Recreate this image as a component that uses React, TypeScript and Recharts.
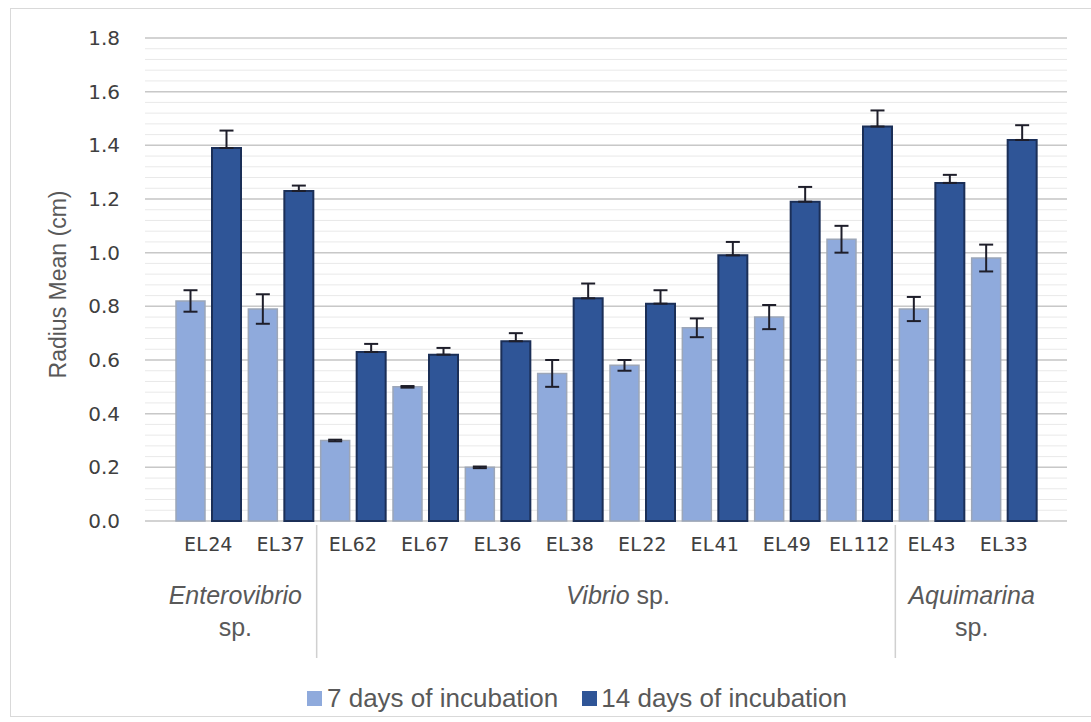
import React from 'react';
import { BarChart, Bar, XAxis, YAxis, CartesianGrid, ErrorBar, Legend } from 'recharts';

const categories = ['EL24', 'EL37', 'EL62', 'EL67', 'EL36', 'EL38', 'EL22', 'EL41', 'EL49', 'EL112', 'EL43', 'EL33'];
const days7 = [0.82, 0.79, 0.30, 0.50, 0.20, 0.55, 0.58, 0.72, 0.76, 1.05, 0.79, 0.98];
const err7 = [0.04, 0.055, 0.003, 0.003, 0.003, 0.05, 0.02, 0.035, 0.045, 0.05, 0.045, 0.05];
const days14 = [1.39, 1.23, 0.63, 0.62, 0.67, 0.83, 0.81, 0.99, 1.19, 1.47, 1.26, 1.42];
const err14 = [0.065, 0.02, 0.03, 0.025, 0.03, 0.055, 0.05, 0.05, 0.055, 0.06, 0.03, 0.055];

const Y_MAX = 1.8;
const yTicks = [0, 0.2, 0.4, 0.6, 0.8, 1.0, 1.2, 1.4, 1.6, 1.8];
const minorStep = 0.04;
const minorTicks = Array.from({ length: 46 }, (_, i) => Math.round(i * minorStep * 100) / 100);

const groups = [
  { name: 'Enterovibrio', suffix: 'sp.', twoLine: true, start: 0, end: 1, dx: -9 },
  { name: 'Vibrio', suffix: ' sp.', twoLine: false, start: 2, end: 9, dx: 12 },
  { name: 'Aquimarina', suffix: 'sp.', twoLine: true, start: 10, end: 11, dx: 4 },
];

const seriesNames = ['7 days of incubation', '14 days of incubation'];
const LIGHT = '#8faadc';
const DARK = '#2f5597';

const data = categories.map((c, i) => ({
  name: c,
  d7: days7[i],
  e7: err7[i],
  d14: days14[i],
  e14: err14[i],
}));

const SANS = '"Liberation Sans", Arial, sans-serif';
const TEXT = '#595959';

const XTick = (props: any) => {
  const { x, y, payload } = props;
  const idx = payload.index;
  const half = payload.offset || 36;
  const g = groups.find((gr) => gr.end === idx);
  const isLast = g ? g === groups[groups.length - 1] : false;
  let groupEls: any = null;
  if (g) {
    const cx = x - (g.end - g.start) * half + g.dx;
    groupEls = (
      <g>
        {!isLast && (
          <line x1={x + half} x2={x + half} y1={y - 12} y2={y + 121} stroke="#d0d0d0" strokeWidth={1.5} />
        )}
        {g.twoLine ? (
          <g>
            <text x={cx} y={y + 67} textAnchor="middle" fontSize={25} fontFamily={SANS} fill={TEXT} fontStyle="italic">
              {g.name}
            </text>
            <text x={cx} y={y + 99} textAnchor="middle" fontSize={25} fontFamily={SANS} fill={TEXT}>
              {g.suffix}
            </text>
          </g>
        ) : (
          <text x={cx} y={y + 67} textAnchor="middle" fontSize={25} fontFamily={SANS} fill={TEXT}>
            <tspan fontStyle="italic">{g.name}</tspan>
            <tspan>{g.suffix}</tspan>
          </text>
        )}
      </g>
    );
  }
  return (
    <g>
      <text x={x} y={y} dy="0.71em" textAnchor="middle" fontSize={20} fontFamily='"DejaVu Sans Mono", monospace' fill="#404040">
        {payload.value}
      </text>
      {groupEls}
    </g>
  );
};

const LegendContent = () => (
  <div style={{ display: 'flex', alignItems: 'center', paddingLeft: 307, height: 32, fontFamily: SANS, fontSize: 26, color: TEXT }}>
    <span style={{ width: 15, height: 15, background: LIGHT, display: 'inline-block', marginRight: 5 }} />
    <span style={{ marginRight: 24 }}>{seriesNames[0]}</span>
    <span style={{ width: 15, height: 15, background: DARK, display: 'inline-block', marginRight: 4 }} />
    <span>{seriesNames[1]}</span>
  </div>
);

const minorGen = (args: any) => {
  const yAxis = args && args.yAxis;
  if (yAxis && typeof yAxis.scale === 'function') {
    return minorTicks.map((t) => yAxis.scale(t));
  }
  const off = args && args.offset;
  if (!off || typeof off.top !== 'number' || typeof off.height !== 'number') return [];
  return minorTicks.map((t) => off.top + off.height * (1 - t / Y_MAX));
};

export default function App() {
  return (
    <div style={{ position: 'absolute', left: 0, top: 0, width: 1091, height: 722, background: '#fff', overflow: 'hidden' }}>
      <div style={{ position: 'absolute', left: 10, top: 8, width: 1090, height: 709, border: '1px solid #d9d9d9', boxSizing: 'border-box' }} />
      <BarChart
        width={1091}
        height={722}
        data={data}
        margin={{ top: 38, right: 24, left: 0, bottom: 0 }}
        barGap={7}
        barSize={29}
      >
        <CartesianGrid vertical={false} stroke="#e9e9e9" strokeWidth={1} horizontalCoordinatesGenerator={minorGen} />
        <CartesianGrid vertical={false} stroke="#c8c8c8" strokeWidth={1.5} />
        <XAxis
          dataKey="name"
          height={201}
          padding={{ left: 27, right: 27 }}
          tickLine={false}
          axisLine={false}
          tickSize={6}
          tickMargin={10}
          interval={0}
          tick={<XTick />}
        />
        <YAxis
          width={145}
          domain={[0, Y_MAX]}
          ticks={yTicks}
          tickFormatter={(v: number) => v.toFixed(1)}
          tickLine={false}
          axisLine={false}
          tickSize={6}
          tickMargin={19}
          tick={{ fill: '#404040', fontSize: 20, fontFamily: '"DejaVu Sans", sans-serif' }}
          label={{ value: 'Radius Mean (cm)', angle: -90, position: 'center', dx: -15, dy: 5, style: { fill: TEXT, fontSize: 23, fontFamily: SANS } }}
        />
        <Legend layout="horizontal" verticalAlign="middle" align="center" wrapperStyle={{ top: 682, left: 0, width: 1091, height: 32 }} content={<LegendContent />} />
        <Bar dataKey="d7" name={seriesNames[0]} fill={LIGHT} stroke="#9ca6b8" strokeWidth={1.5} isAnimationActive={false}>
          <ErrorBar dataKey="e7" width={7} stroke="#1e1e2a" strokeWidth={2} />
        </Bar>
        <Bar dataKey="d14" name={seriesNames[1]} fill={DARK} stroke="#1b2f57" strokeWidth={2} isAnimationActive={false}>
          <ErrorBar dataKey={(d: any) => [0, d.e14]} width={7} stroke="#1e1e2a" strokeWidth={2} />
        </Bar>
      </BarChart>
    </div>
  );
}
